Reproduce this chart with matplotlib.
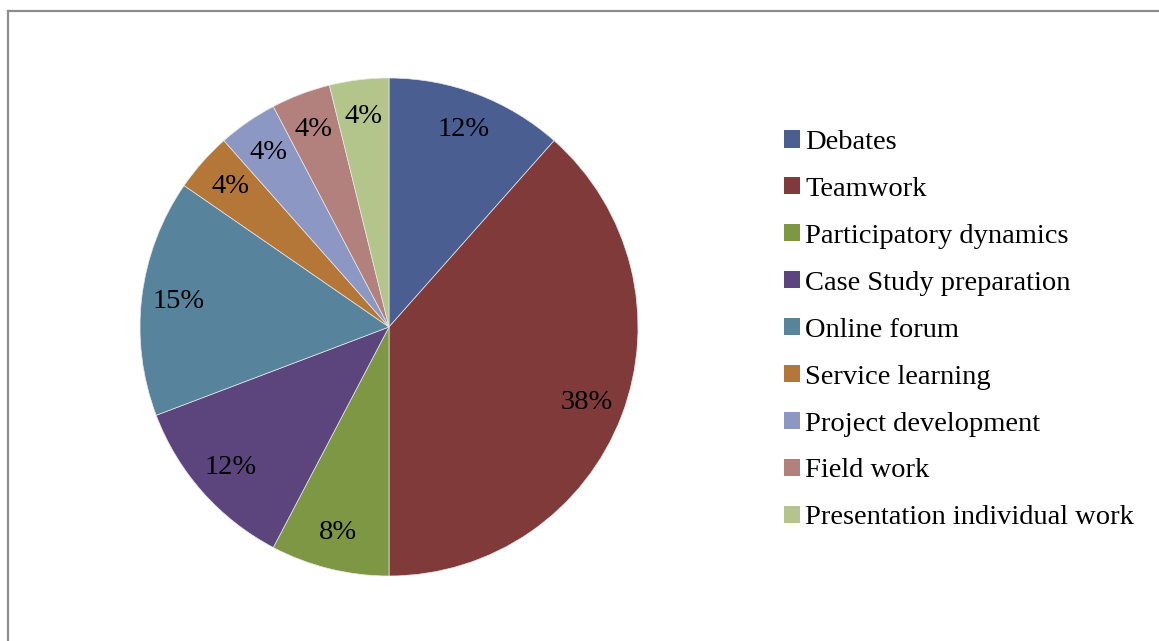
import matplotlib
matplotlib.use("Agg")
import matplotlib.pyplot as plt
from matplotlib.patches import Patch
from matplotlib.lines import Line2D

labels = ["Debates", "Teamwork", "Participatory dynamics", "Case Study preparation",
          "Online forum", "Service learning", "Project development", "Field work",
          "Presentation individual work"]
counts = [3, 10, 2, 3, 4, 1, 1, 1, 1]
colors = ["#4A5E92", "#803A39", "#7E9745", "#5C447C", "#57849C",
          "#B57738", "#8C97C4", "#B2817E", "#B3C58A"]

plt.rcParams['font.family'] = ['Liberation Serif', 'DejaVu Serif']

W, H = 1159, 641
fig = plt.figure(figsize=(W / 100, H / 100), dpi=100)

# grey frame (only left and top edges are visible in the crop)
fig.add_artist(Line2D([7.5 / W, 7.5 / W], [0, 1 - 10.5 / H], color="#8c8c8c", lw=1.6, transform=fig.transFigure))
fig.add_artist(Line2D([7.5 / W, 1], [1 - 10.5 / H, 1 - 10.5 / H], color="#8c8c8c", lw=1.6, transform=fig.transFigure))

cx, cy, r = 389, 327, 249
ax = fig.add_axes([(cx - r) / W, (H - cy - r) / H, 2 * r / W, 2 * r / H])
wedges, texts, autotexts = ax.pie(counts, colors=colors, startangle=90, counterclock=False,
                                  autopct=lambda p: f"{p:.0f}%", pctdistance=0.85,
                                  wedgeprops=dict(edgecolor="#e8e8e8", linewidth=0.5),
                                  textprops=dict(fontsize=20.5, color="black"))
ax.set_xlim(-1, 1)
ax.set_ylim(-1, 1)
ax.set_aspect("equal")
ax.axis("off")

handles = [Patch(facecolor=c, edgecolor="none") for c in colors]
fig.legend(handles, labels, loc="upper left", bbox_to_anchor=(784 / W, 1 - 130 / H),
           frameon=False, fontsize=20.5, handlelength=0.55, handleheight=0.55,
           handletextpad=0.2, labelspacing=0.77, borderpad=0, borderaxespad=0)

fig.savefig("out.png", dpi=100)
